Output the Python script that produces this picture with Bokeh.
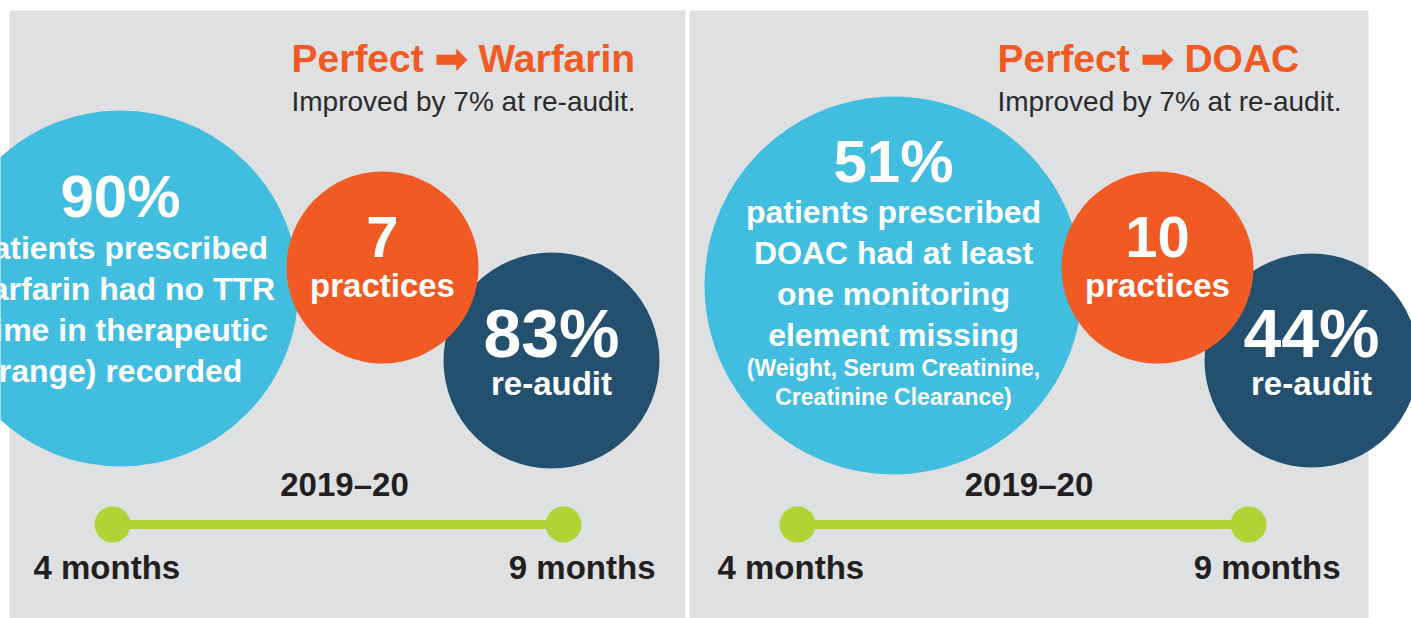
from bokeh.plotting import figure
from bokeh.models import Range1d
from bokeh.core.properties import value
from bokeh.embed import file_html
from bokeh.resources import INLINE

# ---- data ----
panel_titles = ["Perfect \u27a1 Warfarin", "Perfect \u27a1 DOAC"]
panel_subtitles = ["Improved by 7% at re-audit.", "Improved by 7% at re-audit."]
baseline_pct = [90, 51]
reaudit_pct = [83, 44]
practices = [7, 10]
period_label = ["2019\u201320", "2019\u201320"]
months_start = [4, 4]
months_end = [9, 9]
main_lines = [
    ["patients prescribed", "warfarin had no TTR", "(time in therapeutic", "range) recorded"],
    ["patients prescribed", "DOAC had at least", "one monitoring", "element missing"],
]
small_lines = [[], ["(Weight, Serum Creatinine,", "Creatinine Clearance)"]]

# ---- layout (page pixel coords) ----
BG = "#DFE0E2"
BLUE = "#41BEDF"
ORANGE = "#F15A22"
NAVY = "#245070"
GREEN = "#B2D235"
DARK = "#231F20"
FONT = "Liberation Sans"

panels = [
    dict(x0=9, x1=685, title_x=291, blue=(120, 288, 178), orange=(382, 267, 96),
         navy=(551, 360, 108), big_y=218, line_y0=259, tl_x0=112, tl_x1=563,
         lab_x0=33, lab_x1=655),
    dict(x0=689, x1=1368, title_x=997, blue=(893, 285, 189), orange=(1157, 267, 96),
         navy=(1311, 360, 107), big_y=183, line_y0=223, tl_x0=797, tl_x1=1248,
         lab_x0=717, lab_x1=1340),
]

p = figure(width=1411, height=618, output_backend="svg", toolbar_location=None,
           x_range=Range1d(0, 1411), y_range=Range1d(618, 0),
           min_border=0, background_fill_color="white", border_fill_color="white")
p.axis.visible = False
p.grid.visible = False
p.outline_line_color = None

for i, d in enumerate(panels):
    p.quad(left=[d["x0"]], right=[d["x1"]], top=[10], bottom=[640],
           fill_color=BG, line_color=None)


def txt(x, y, t, size, color="white", align="center", bold=True):
    # y given as the text baseline; convert to visual middle of capitals
    yy = [v - 0.36 * size for v in y]
    p.text(x=x, y=yy, text=t, text_font=value(FONT), text_font_size=f"{size}px",
           text_font_style="bold" if bold else "normal", text_color=color,
           text_align=align, text_baseline="middle")


for i, d in enumerate(panels):
    bx, by, br = d["blue"]
    ox, oy, orr = d["orange"]
    nx, ny, nr = d["navy"]
    p.circle(x=[bx], y=[by], radius=br, fill_color=BLUE, line_color=None)
    p.circle(x=[nx], y=[ny], radius=nr, fill_color=NAVY, line_color=None)
    p.circle(x=[ox], y=[oy], radius=orr, fill_color=ORANGE, line_color=None)

    # titles
    txt([d["title_x"]], [72], [panel_titles[i]], 39, ORANGE, "left")
    txt([d["title_x"]], [111], [panel_subtitles[i]], 28, "#2B2B2B", "left", bold=False)

    # blue circle text
    txt([bx], [d["big_y"]], [f"{baseline_pct[i]}%"], 60)
    ys = [d["line_y0"] + 41 * k for k in range(len(main_lines[i]))]
    txt([bx] * len(ys), ys, main_lines[i], 32)
    if small_lines[i]:
        sy = [ys[-1] + 30 + 29 * k for k in range(len(small_lines[i]))]
        txt([bx] * len(sy), sy, small_lines[i], 23)

    # orange circle text
    txt([ox], [257], [str(practices[i])], 58)
    txt([ox], [297], ["practices"], 33)

    # navy circle text
    txt([nx], [357], [f"{reaudit_pct[i]}%"], 68)
    txt([nx], [395], ["re-audit"], 33)

    # timeline
    txt([(d["lab_x0"] + d["lab_x1"]) / 2], [496], [period_label[i]], 33, DARK)
    p.segment(x0=[d["tl_x0"]], y0=[524], x1=[d["tl_x1"]], y1=[524],
              line_color=GREEN, line_width=9)
    p.circle(x=[d["tl_x0"], d["tl_x1"]], y=[524, 524], radius=18,
             fill_color=GREEN, line_color=None)
    txt([d["lab_x0"]], [579], [f"{months_start[i]} months"], 33, DARK, "left")
    txt([d["lab_x1"]], [579], [f"{months_end[i]} months"], 33, DARK, "right")

open("out.html", "w").write(file_html(p, INLINE))
